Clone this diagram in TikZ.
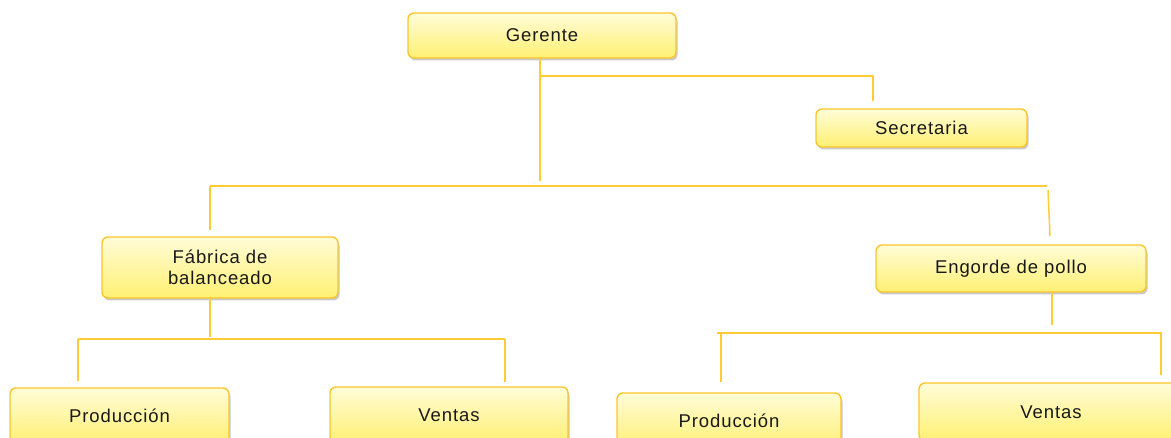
\documentclass[tikz,border=0pt]{standalone}
\usepackage{fontspec}
\setmainfont{Liberation Sans}[LetterSpace=5]
\usetikzlibrary{shadows}
\definecolor{ln}{RGB}{255,204,55}
\definecolor{bd}{RGB}{250,198,45}
\definecolor{ftop}{RGB}{255,252,215}
\definecolor{fbot}{RGB}{255,240,115}
\definecolor{txt}{RGB}{25,25,25}
\tikzset{
  box/.style={draw=bd, line width=1.4pt, rounded corners=6pt, top color=ftop, bottom color=fbot,
    drop shadow={shadow xshift=1.5pt, shadow yshift=-2.5pt, opacity=0.35, fill=black!60},
    align=center, font=\fontsize{18.5}{21}\selectfont, text=txt, inner sep=0pt},
  conn/.style={draw=ln, line width=1.5pt}
}
\begin{document}
\begin{tikzpicture}[x=1pt,y=-1pt]
\useasboundingbox (0,0) rectangle (1171,438);
\clip (0,0) rectangle (1171,438);
% nodes
\node[box, minimum width=268pt, minimum height=45pt] (ger) at (542,35.5) {Gerente};
\node[box, minimum width=211pt, minimum height=38pt] (sec) at (921.5,128) {Secretaria};
\node[box, minimum width=236pt, minimum height=61pt] (fab) at (220,267.5) {Fábrica de\\balanceado};
\node[box, minimum width=270pt, minimum height=47pt] (eng) at (1011,268.5) {Engorde de pollo};
\node[box, minimum width=219pt, minimum height=56pt] (p1) at (119.5,416) {Producción};
\node[box, minimum width=238pt, minimum height=56pt] (v1) at (449,415) {Ventas};
\node[box, minimum width=224pt, minimum height=56pt] (p2) at (729,421) {Producción};
\node[box, minimum width=264pt, minimum height=58pt] (v2) at (1051,412) {Ventas};
% coordinates
\coordinate (g1) at (540,181);
\coordinate (gs) at (540,76);
\coordinate (se) at (873,76);
\coordinate (sd) at (873,101);
\coordinate (hl) at (210,186);
\coordinate (hr) at (1047,186);
\coordinate (hr2) at (1048,190);
\coordinate (fd) at (1050,236);
\coordinate (fu) at (210,230);
\coordinate (fb) at (210,337);
\coordinate (al) at (78,339);
\coordinate (ar) at (505,339);
\coordinate (ald) at (78,381);
\coordinate (ard) at (505,382);
\coordinate (eb) at (1052,325);
\coordinate (bl) at (717,333);
\coordinate (br) at (1162,333);
\coordinate (bl1) at (721,333);
\coordinate (br1) at (1161,333);
\coordinate (bld) at (721,382);
\coordinate (brd) at (1161,375);
% connectors
\draw[conn] (ger.south -| g1) -- (g1);
\draw[conn] (gs) -- (se) -- (sd);
\draw[conn] (hl) -- (hr);
\draw[conn] (hl) -- (fu);
\draw[conn] (hr2) -- (fd);
\draw[conn] (fab.south -| fb) -- (fb);
\draw[conn] (al) -- (ar);
\draw[conn] (al) -- (ald);
\draw[conn] (ar) -- (ard);
\draw[conn] (eng.south -| eb) -- (eb);
\draw[conn] (bl) -- (br);
\draw[conn] (bl1) -- (bld);
\draw[conn] (br1) -- (brd);
\end{tikzpicture}
\end{document}
